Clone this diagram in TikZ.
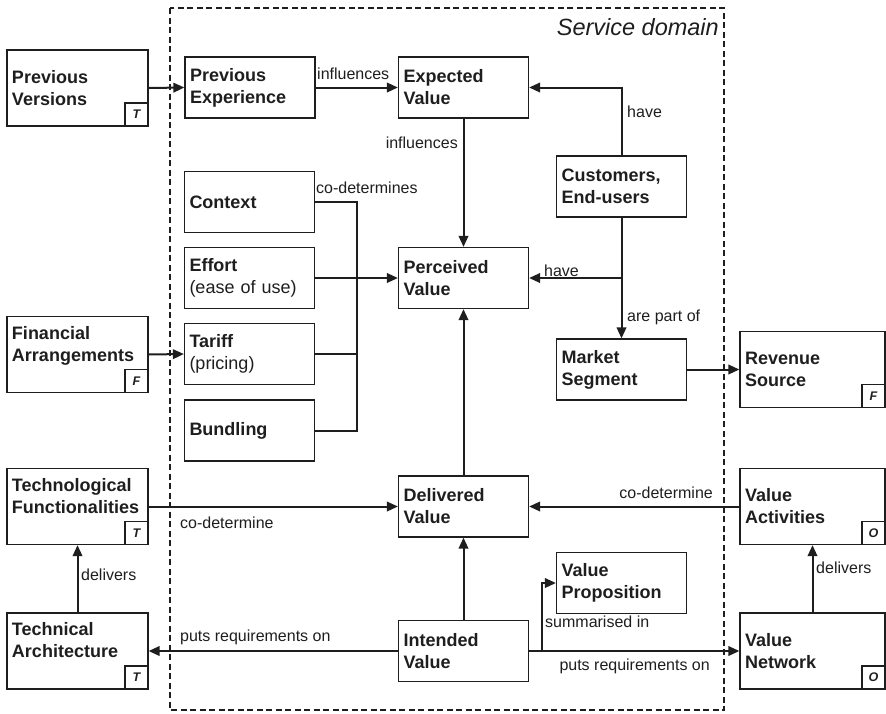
\documentclass[tikz,border=0pt]{standalone}
\usepackage{fontspec}
\setmainfont{Liberation Sans}
\usetikzlibrary{arrows.meta}
\definecolor{ink}{RGB}{30,30,30}
\newcommand{\nodefont}{\fontsize{18}{22}\selectfont\bfseries}
\newcommand{\lblfont}{\fontsize{16}{19}\selectfont}
\tikzset{
  basebox/.style={rectangle, draw=ink, text=ink, line width=1.2pt, inner xsep=5pt, inner ysep=0pt, align=left, font=\nodefont},
  ibox/.style={basebox, text width=120pt, minimum height=61pt},
  obox/.style={basebox, text width=131pt, minimum height=76pt},
  rbox/.style={basebox, text width=135pt, minimum height=76pt},
  badge/.style={rectangle, draw=ink, text=ink, line width=1.2pt, minimum size=23pt, inner sep=0pt, anchor=south east, font=\fontsize{12.5}{12.5}\selectfont\bfseries\itshape},
  conn/.style={draw=ink, line width=2pt},
  arr/.style={conn, -{Triangle[length=11pt,width=9.5pt]}},
  lbl/.style={text=ink, font=\lblfont, inner sep=0pt},
}
\begin{document}
\begin{tikzpicture}[x=1pt, y=-1pt]
\useasboundingbox (0,0) rectangle (886,713);
% service domain
\draw[ink, line width=1.8pt, dash pattern=on 6pt off 3.5pt] (170,8) rectangle (724,710);
\node[lbl, anchor=base east, font=\fontsize{23.5}{26}\selectfont\itshape] (sd) at (719,35) {Service domain};

% inner nodes
\node[ibox] (pe) at (250,87.5) {Previous\\Experience};
\node[ibox] (ev) at (463.5,87.5) {Expected\\Value};
\node[ibox] (ctx) at (249.5,202) {Context};
\node[ibox] (eff) at (249.5,278) {Effort\\{\mdseries (ease of use)}};
\node[ibox] (tar) at (249.5,354) {Tariff\\{\mdseries (pricing)}};
\node[ibox] (bun) at (249.5,430.5) {Bundling};
\node[ibox] (pv) at (463.5,278) {Perceived\\Value};
\node[ibox] (cust) at (621.5,186.5) {Customers,\\End-users};
\node[ibox] (ms) at (621.5,369.5) {Market\\Segment};
\node[ibox] (dv) at (463.5,506.5) {Delivered\\Value};
\node[ibox] (vp) at (621.5,583) {Value\\Proposition};
\node[ibox] (iv) at (463.5,651) {Intended\\Value};

% outer nodes
\node[obox] (pver) at (77.5,88) {Previous\\Versions};
\node[badge] (pverB) at (pver.south east) {T};
\node[obox] (fa) at (77.5,354.5) {Financial\\Arrangements\\~};
\node[badge] (faB) at (fa.south east) {F};
\node[obox] (tf) at (77.5,506.5) {Technological\\Functionalities\\~};
\node[badge] (tfB) at (tf.south east) {T};
\node[obox] (ta) at (77.5,651) {Technical\\Architecture\\~};
\node[badge] (taB) at (ta.south east) {T};
\node[rbox] (rs) at (812.5,369.5) {Revenue\\Source};
\node[badge] (rsB) at (rs.south east) {F};
\node[rbox] (va) at (812.5,506.5) {Value\\Activities};
\node[badge] (vaB) at (va.south east) {O};
\node[rbox] (vn) at (812.5,651) {Value\\Network};
\node[badge] (vnB) at (vn.south east) {O};

% connectors
\draw[arr] (pver.east) -- (pe.west);
\draw[arr] (pe.east) -- (ev.west);
\draw[arr] (ev.south) -- (pv.north);
\draw[arr] (cust.north) |- (ev.east);
\draw[arr] (cust.south) -- (ms.north);
\coordinate (custsplit) at (cust.south |- pv.east);
\draw[arr] (custsplit) -- (pv.east);
\coordinate (bus) at (357,278);
\draw[conn] (ctx.east) -| (bus);
\draw[conn] (bun.east) -| (bus);
\draw[conn] (tar.east) -- (tar.east -| bus);
\draw[arr] (eff.east) -- (pv.west);
\draw[arr] (fa.east) -- (tar.west);
\draw[arr] (ms.east) -- (rs.west);
\draw[arr] (dv.north) -- (pv.south);
\draw[arr] (tf.east) -- (dv.west);
\draw[arr] (va.west) -- (dv.east);
\draw[arr] (ta.north) -- (tf.south);
\draw[arr] (vn.north) -- (va.south);
\draw[arr] (iv.north) -- (dv.south);
\draw[arr] (iv.west) -- (ta.east);
\draw[arr] (iv.east) -- (vn.west);
\coordinate (ivsplit) at (542,651);
\draw[arr] (ivsplit) |- (vp.west);

% labels
\node[lbl, anchor=base west] (l1) at (317,79) {influences};
\node[lbl, anchor=base east] (l2) at (458,148) {influences};
\node[lbl, anchor=base west] (l3) at (627,117) {have};
\node[lbl, anchor=base west] (l4) at (316,193) {co-determines};
\node[lbl, anchor=base west] (l5) at (544,276) {have};
\node[lbl, anchor=base west] (l6) at (627,321) {are part of};
\node[lbl, anchor=base west] (l7) at (180,528) {co-determine};
\node[lbl, anchor=base east] (l8) at (713,498) {co-determine};
\node[lbl, anchor=base west] (l9) at (81,580) {delivers};
\node[lbl, anchor=base west] (l10) at (816,573) {delivers};
\node[lbl, anchor=base west] (l11) at (180,641) {puts requirements on};
\node[lbl, anchor=base west] (l12) at (545,627) {summarised in};
\node[lbl, anchor=base east] (l13) at (710,670) {puts requirements on};
\end{tikzpicture}
\end{document}
